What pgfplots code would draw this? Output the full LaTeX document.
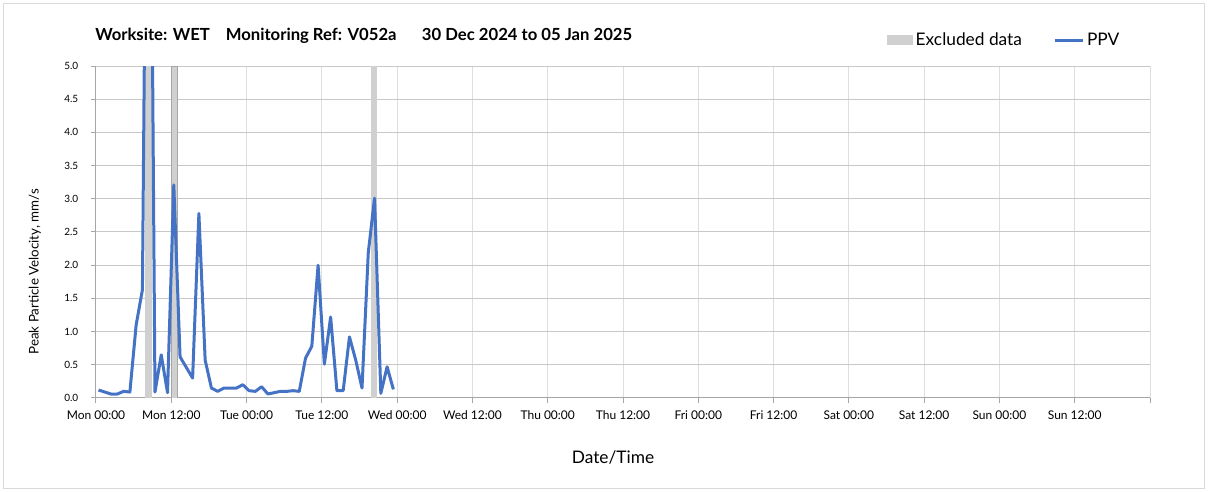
\documentclass[border=0pt]{standalone}
\usepackage{fontspec}
\setmainfont{Lato}
\usepackage{pgfplots}
\pgfplotsset{compat=1.18}
\definecolor{ppv}{HTML}{4472C4}
\definecolor{excl}{HTML}{D0D0D0}
\definecolor{gridv}{HTML}{DEDEDE}
\definecolor{gridh}{HTML}{C8C8C8}
\definecolor{axc}{HTML}{A6A6A6}
\definecolor{frame}{HTML}{D9D9D9}

\pgfplotstableread{
h v
0.4 0.12
1.4 0.09
2.4 0.06
3.4 0.06
4.4 0.10
5.4 0.09
6.4 1.10
7.4 1.63
8.4 13.0
9.4 0.09
10.4 0.65
11.4 0.08
12.4 3.21
13.4 0.62
14.4 0.46
15.4 0.30
16.4 2.78
17.4 0.57
18.4 0.15
19.4 0.10
20.4 0.15
21.4 0.15
22.4 0.15
23.4 0.20
24.4 0.11
25.4 0.10
26.4 0.17
27.4 0.06
28.4 0.08
29.4 0.10
30.4 0.10
31.4 0.11
32.4 0.10
33.4 0.60
34.4 0.78
35.4 2.00
36.4 0.51
37.4 1.22
38.4 0.11
39.4 0.11
40.4 0.92
41.4 0.57
42.4 0.15
43.4 2.19
44.4 3.01
45.4 0.07
46.4 0.47
47.4 0.13
}\ppvdata

\begin{document}
\begin{tikzpicture}
\useasboundingbox (-72pt,-70.5pt) rectangle (834pt,298.5pt);
\draw[frame, line width=0.75pt] (-69pt,-68.25pt) rectangle (831pt,295.5pt);
\begin{axis}[
  at={(0pt,0pt)}, anchor=south west,
  scale only axis, width=790.5pt, height=249pt,
  xmin=0, xmax=168, ymin=0, ymax=5,
  axis lines*=left, axis line style={axc, line width=0.75pt, -},
  xtick={0,12,...,168},
  xticklabels={Mon 00:00, Mon 12:00, Tue 00:00, Tue 12:00, Wed 00:00, Wed 12:00, Thu 00:00, Thu 12:00, Fri 00:00, Fri 12:00, Sat 00:00, Sat 12:00, Sun 00:00, Sun 12:00, {}},
  ytick={0,0.5,...,5},
  yticklabel style={/pgf/number format/fixed, /pgf/number format/fixed zerofill, /pgf/number format/precision=1, /pgf/number format/assume math mode=true, font=\fontsize{7.5}{9}\selectfont, xshift=-6pt},
  x tick label style={font=\fontsize{9}{11}\selectfont, yshift=-2pt},
  tick align=outside, major tick length=3.75pt,
  tick style={axc, line width=0.75pt},
  xmajorgrids, ymajorgrids,
  x grid style={gridv, line width=0.75pt},
  y grid style={gridh, line width=0.75pt},
  xlabel={Date/Time},
  xlabel style={at={(axis description cs:0.4905,-0.178)}, anchor=center, font=\fontsize{13}{15}\selectfont},
  ylabel={Peak Particle Velocity, mm/s},
  ylabel style={at={(axis description cs:-0.058,0.38)}, anchor=center, font=\fontsize{10}{12}\selectfont},
  legend style={draw=none, fill=none, at={(0.7505,1.078)}, anchor=west,
    legend columns=2, inner sep=0pt, outer sep=0pt,
    font=\fontsize{13}{15}\selectfont,
    /tikz/every even column/.append style={column sep=21.5pt}},
  legend cell align=left,
]
\addplot[fill=excl, draw=none, legend image code/.code={\fill[excl] (0pt,-3.75pt) rectangle (19.5pt,3.75pt);}] coordinates {(7.8,5) (8.9,5)} \closedcycle;
\addlegendentry{Excluded data}
\addplot[fill=excl, draw=axc, line width=0.5pt, forget plot] coordinates {(12.0,5) (12.9,5)} \closedcycle;
\addplot[fill=excl, draw=none, forget plot] coordinates {(43.9,5) (44.8,5)} \closedcycle;
\addplot[ppv, line width=2.25pt, line join=round, mark=none, legend image code/.code={\draw[ppv, line width=2.25pt] (0pt,0pt) -- (21pt,0pt);}] table[x=h, y=v] {\ppvdata};
\addlegendentry{PPV}
\end{axis}
\node[anchor=west, inner sep=0pt, font=\bfseries\fontsize{12.5}{14}\selectfont] at (-0.75pt,271.5pt) {Worksite: WET\hspace{12pt}Monitoring Ref: V052a\hspace{19pt}30 Dec 2024 to 05 Jan 2025};
\end{tikzpicture}
\end{document}
